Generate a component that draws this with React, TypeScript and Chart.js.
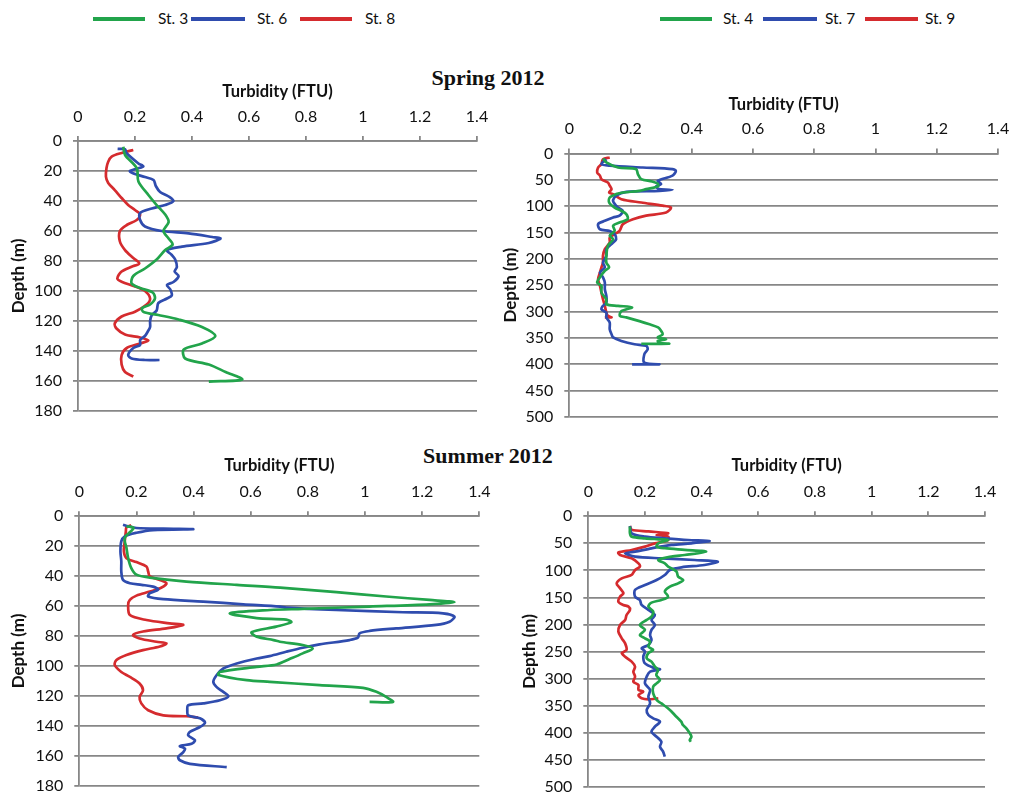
import React, { useEffect, useRef } from 'react';
import { Chart, registerables } from 'chart.js';

Chart.register(...registerables);

// ---------- tick values / labels ----------
const turbTicks = [0, 0.2, 0.4, 0.6, 0.8, 1, 1.2, 1.4];
const turbTickLabels = ['0', '0.2', '0.4', '0.6', '0.8', '1', '1.2', '1.4'];
const shelfDepthTicks = [0, 20, 40, 60, 80, 100, 120, 140, 160, 180];
const slopeDepthTicks = [0, 50, 100, 150, 200, 250, 300, 350, 400, 450, 500];

// ---------- Spring 2012, St. 3 / 6 / 8 ----------
const springSt3Depth = [3.8, 9.3, 18, 27, 36, 42.7, 49, 54, 60, 65, 69, 72.7, 79, 85, 90, 95, 98, 101, 105, 109, 111.5, 114, 116, 119, 124, 130, 135, 139, 145, 149, 154, 159, 160.4];
const springSt3Turb = [0.159, 0.165, 0.206, 0.212, 0.247, 0.276, 0.306, 0.318, 0.3, 0.318, 0.332, 0.306, 0.276, 0.235, 0.194, 0.188, 0.218, 0.262, 0.27, 0.253, 0.224, 0.23, 0.282, 0.353, 0.435, 0.482, 0.435, 0.371, 0.376, 0.459, 0.518, 0.576, 0.459];

const springSt6Depth = [5.3, 5.5, 8, 15, 17, 20, 22, 24, 26, 30, 34, 37, 40, 42.7, 45, 48, 52.7, 57, 60, 61.6, 64, 65, 68, 70.4, 72.7, 76, 79, 84, 87, 90, 94, 96, 99, 103, 105, 108, 113, 116, 120, 124, 127, 130, 132.7, 136, 138, 142.7, 145, 146, 146];
const springSt6Turb = [0.139, 0.165, 0.17, 0.212, 0.229, 0.182, 0.2, 0.235, 0.265, 0.273, 0.288, 0.318, 0.335, 0.306, 0.259, 0.218, 0.218, 0.235, 0.294, 0.388, 0.471, 0.5, 0.459, 0.365, 0.312, 0.329, 0.341, 0.347, 0.339, 0.353, 0.335, 0.312, 0.324, 0.329, 0.312, 0.282, 0.276, 0.259, 0.253, 0.253, 0.245, 0.235, 0.218, 0.218, 0.194, 0.176, 0.188, 0.235, 0.286];

const springSt8Depth = [6, 8, 10.4, 13.8, 18, 23.8, 28, 32.7, 38, 42.7, 46, 49, 52.7, 56, 60, 67, 72.7, 78, 81.6, 83.8, 87, 91.6, 93.8, 97, 100, 105, 109, 113.8, 117, 121.6, 125, 129, 131, 133, 135, 138, 142.7, 149, 154, 157];
const springSt8Turb = [0.194, 0.153, 0.118, 0.106, 0.1, 0.098, 0.106, 0.129, 0.153, 0.176, 0.2, 0.218, 0.206, 0.171, 0.147, 0.147, 0.165, 0.194, 0.215, 0.188, 0.153, 0.138, 0.153, 0.2, 0.235, 0.253, 0.241, 0.2, 0.153, 0.129, 0.135, 0.165, 0.218, 0.247, 0.218, 0.171, 0.153, 0.153, 0.165, 0.194];

// ---------- Spring 2012, St. 4 / 7 / 9 ----------
const springSt4Depth = [9.5, 17, 26.6, 29.7, 39, 48.7, 53, 57, 62, 67.7, 71, 74, 77, 83.5, 93, 102.5, 109, 115, 124.7, 131, 137, 146.8, 156, 162.7, 175, 194, 207, 216, 222.8, 235, 245, 251, 264, 276.6, 286, 289, 292, 299, 308, 311, 318, 324, 330, 336.7, 343, 349, 352.5, 355.7, 359, 361, 361];
const springSt4Turb = [0.11, 0.121, 0.159, 0.218, 0.224, 0.235, 0.27, 0.288, 0.29, 0.251, 0.229, 0.175, 0.153, 0.132, 0.13, 0.148, 0.17, 0.186, 0.191, 0.164, 0.143, 0.148, 0.132, 0.143, 0.126, 0.121, 0.121, 0.13, 0.116, 0.1, 0.091, 0.105, 0.105, 0.121, 0.121, 0.159, 0.205, 0.17, 0.165, 0.186, 0.229, 0.262, 0.29, 0.3, 0.305, 0.289, 0.316, 0.289, 0.294, 0.326, 0.235];

const springSt7Depth = [10.8, 20, 23, 26.6, 29.7, 33, 42, 52, 58, 62.7, 67.7, 69, 71, 72.8, 80, 90, 102.5, 109, 118, 121.5, 127.8, 134, 143.7, 147, 153, 162.7, 169, 181.6, 194, 207, 216, 226, 235, 245, 257.6, 270, 283, 289, 295.6, 302, 311, 321, 333.5, 343, 349, 355.7, 362, 365, 371.5, 381, 397, 400, 400];
const springSt7Turb = [0.121, 0.105, 0.132, 0.24, 0.337, 0.348, 0.337, 0.289, 0.3, 0.283, 0.294, 0.337, 0.294, 0.186, 0.153, 0.143, 0.159, 0.175, 0.164, 0.143, 0.116, 0.094, 0.1, 0.132, 0.148, 0.153, 0.143, 0.121, 0.121, 0.11, 0.116, 0.1, 0.11, 0.116, 0.116, 0.121, 0.121, 0.11, 0.105, 0.121, 0.121, 0.132, 0.132, 0.138, 0.143, 0.17, 0.213, 0.251, 0.256, 0.245, 0.245, 0.294, 0.205];

const springSt9Depth = [7.6, 10.8, 20, 26.6, 36, 42, 48.7, 55, 61, 67.7, 74, 77, 86.7, 93, 99, 102.5, 112, 118, 124.7, 134, 147, 153, 159.5, 169, 181.6, 194, 207, 216, 226, 238.6, 251, 264, 276.6, 289, 302, 308, 311, 311];
const springSt9Turb = [0.132, 0.11, 0.105, 0.094, 0.091, 0.1, 0.105, 0.126, 0.132, 0.138, 0.13, 0.143, 0.17, 0.235, 0.305, 0.332, 0.316, 0.251, 0.208, 0.175, 0.164, 0.148, 0.132, 0.132, 0.116, 0.11, 0.11, 0.105, 0.1, 0.094, 0.1, 0.105, 0.11, 0.116, 0.121, 0.126, 0.138, 0.116];

// ---------- Summer 2012, St. 3 / 6 / 8 ----------
const summerSt3Depth = [6.7, 7.8, 14.5, 21, 28, 34.6, 39, 41, 43.6, 45.8, 47.6, 50.7, 53.6, 55.9, 57.4, 58.8, 60.3, 61.9, 62.6, 64.8, 68, 69, 70.8, 73.7, 77.5, 80.4, 82.7, 83.8, 86, 88.3, 91.6, 95.4, 99, 100.6, 104, 106, 109.5, 110.6, 112.8, 114.6, 117.3, 120.7, 124, 124];
const summerSt3Turb = [0.165, 0.19, 0.159, 0.165, 0.171, 0.182, 0.2, 0.247, 0.375, 0.551, 0.703, 0.9, 1.074, 1.226, 1.313, 1.226, 1.016, 0.782, 0.668, 0.527, 0.621, 0.724, 0.742, 0.689, 0.603, 0.621, 0.68, 0.702, 0.782, 0.817, 0.782, 0.736, 0.691, 0.621, 0.492, 0.487, 0.586, 0.667, 0.841, 0.993, 1.04, 1.074, 1.098, 1.016];

const summerSt6Depth = [5.6, 6.7, 7.8, 8.3, 8.6, 9.2, 11, 13.4, 16.8, 23.5, 30, 36.9, 42.5, 44.7, 45.8, 47, 49, 51.4, 53.6, 55.4, 57, 58.8, 60.3, 61, 62.6, 64.1, 64.8, 67, 70.4, 72.6, 74.9, 76.6, 78.2, 81.1, 82.7, 85.6, 87.8, 90.5, 93.4, 95, 98.3, 101.7, 106, 110.6, 114, 117.3, 120.2, 122.9, 125, 126.3, 129.6, 133, 135, 137.9, 140.8, 144, 146.4, 149.7, 152, 153.5, 155.3, 157.5, 160.9, 163, 165.4, 167.6];
const summerSt6Turb = [0.153, 0.171, 0.2, 0.294, 0.399, 0.258, 0.2, 0.159, 0.147, 0.144, 0.147, 0.147, 0.153, 0.177, 0.218, 0.258, 0.276, 0.247, 0.241, 0.294, 0.434, 0.574, 0.703, 0.724, 0.899, 1.133, 1.273, 1.313, 1.296, 1.249, 1.109, 1.016, 0.981, 0.975, 0.946, 0.841, 0.782, 0.724, 0.666, 0.621, 0.551, 0.504, 0.481, 0.469, 0.48, 0.504, 0.522, 0.492, 0.434, 0.381, 0.378, 0.381, 0.422, 0.44, 0.422, 0.387, 0.381, 0.405, 0.393, 0.352, 0.37, 0.364, 0.346, 0.352, 0.387, 0.516];

const summerSt8Depth = [6, 7.4, 10, 16.8, 23.5, 28, 30.6, 33.5, 36.9, 40.2, 42.5, 44.7, 47.6, 50.3, 53, 55.9, 59.2, 66, 69.3, 71.5, 72.6, 74.9, 77, 79.3, 81.6, 83.8, 84.9, 87, 89.4, 92.7, 96, 99.4, 104, 107.3, 111.7, 116.2, 120.7, 125, 129.6, 133, 133.6, 134.5];
const summerSt8Turb = [0.182, 0.165, 0.163, 0.159, 0.156, 0.165, 0.2, 0.235, 0.241, 0.247, 0.282, 0.305, 0.288, 0.247, 0.2, 0.177, 0.171, 0.177, 0.235, 0.316, 0.364, 0.305, 0.223, 0.188, 0.211, 0.27, 0.305, 0.282, 0.223, 0.165, 0.13, 0.124, 0.147, 0.177, 0.211, 0.223, 0.211, 0.217, 0.241, 0.294, 0.375, 0.416];

// ---------- Summer 2012, St. 4 / 7 / 9 ----------
const summerSt4Depth = [19, 31.4, 37.6, 40.7, 42.5, 43.8, 50, 56, 59, 62, 65.4, 71.5, 74.6, 80.8, 87, 93, 102, 111.6, 117.8, 124, 130, 139, 148.6, 154.7, 159.7, 167, 176, 185.6, 191.7, 201, 210, 219.5, 225.6, 231.8, 241, 247, 253, 262.6, 268.8, 278, 284, 293.5, 302.7, 309, 315, 327.4, 339.7, 346, 358, 367.4, 379.8, 386, 392, 401, 407.5, 413.7, 416.8];
const summerSt4Turb = [0.147, 0.147, 0.153, 0.2, 0.247, 0.282, 0.247, 0.241, 0.27, 0.34, 0.416, 0.34, 0.293, 0.247, 0.27, 0.282, 0.311, 0.317, 0.335, 0.317, 0.288, 0.27, 0.282, 0.258, 0.223, 0.212, 0.229, 0.223, 0.206, 0.182, 0.2, 0.182, 0.2, 0.218, 0.212, 0.229, 0.212, 0.206, 0.223, 0.235, 0.246, 0.24, 0.253, 0.241, 0.229, 0.229, 0.241, 0.258, 0.288, 0.305, 0.328, 0.334, 0.346, 0.358, 0.364, 0.358, 0.362];

const summerSt7Depth = [17.9, 31.4, 37.6, 40.7, 43.8, 45.6, 50, 53, 59.2, 65.4, 68.4, 74.6, 77.7, 80.8, 83.8, 90, 94.3, 99.3, 108.5, 117.8, 127, 136, 148.6, 154.7, 164, 173, 182.5, 191.7, 201, 210, 219.5, 228.7, 238, 244, 250, 259.6, 272, 281, 283, 287.3, 296.5, 309, 321, 333.5, 345.9, 358, 367.4, 373.6, 379.8, 389, 398.3, 407.5, 416.8, 426, 435, 444.5];
const summerSt7Turb = [0.147, 0.153, 0.2, 0.27, 0.352, 0.428, 0.364, 0.294, 0.223, 0.165, 0.13, 0.165, 0.258, 0.375, 0.457, 0.41, 0.329, 0.288, 0.27, 0.241, 0.2, 0.165, 0.165, 0.182, 0.188, 0.212, 0.235, 0.223, 0.235, 0.223, 0.218, 0.223, 0.212, 0.188, 0.2, 0.194, 0.2, 0.235, 0.253, 0.218, 0.206, 0.2, 0.218, 0.212, 0.218, 0.206, 0.212, 0.229, 0.253, 0.235, 0.223, 0.241, 0.258, 0.253, 0.264, 0.27];

const summerSt9Depth = [17.9, 25, 28, 31.4, 34.5, 37.6, 43.8, 50, 56, 62.3, 67, 71.5, 77.7, 87, 93, 99.3, 108.5, 114.7, 124, 133, 142.4, 148.6, 157.8, 164, 167, 173, 182.5, 191.7, 201, 213, 225.6, 235, 247, 253, 259.6, 268.8, 278, 287.3, 296.5, 305.8, 312, 321, 324.3, 330.5, 336.6, 338.5, 336.6];
const summerSt9Turb = [0.147, 0.153, 0.212, 0.282, 0.241, 0.282, 0.282, 0.235, 0.2, 0.153, 0.106, 0.112, 0.153, 0.177, 0.182, 0.165, 0.153, 0.118, 0.1, 0.112, 0.124, 0.112, 0.106, 0.124, 0.142, 0.147, 0.135, 0.13, 0.112, 0.106, 0.118, 0.13, 0.135, 0.118, 0.13, 0.153, 0.165, 0.159, 0.165, 0.159, 0.177, 0.177, 0.194, 0.177, 0.188, 0.212, 0.247];

// ---------- styles ----------
const GREEN = '#22a44b';
const BLUE = '#2f4cae';
const RED = '#d52b2e';
const GRID = '#878787';
const TEXT = '#111111';
const FONT = 'Lato, "Open Sans", "DejaVu Sans", sans-serif';

type Series = { label: string; color: string; turb: number[]; depth: number[] };
type PanelSpec = {
  left: number; top: number; w: number; h: number;
  yW: number; xH: number; padR: number; padB: number;
  maxDepth: number; depthTicks: number[];
  series: Series[];
};

const panels: PanelSpec[] = [
  {
    left: 8, top: 82, w: 490, h: 344, yW: 70, xH: 59, padR: 21, padB: 15,
    maxDepth: 180, depthTicks: shelfDepthTicks,
    series: [
      { label: 'St. 3', color: GREEN, turb: springSt3Turb, depth: springSt3Depth },
      { label: 'St. 6', color: BLUE, turb: springSt6Turb, depth: springSt6Depth },
      { label: 'St. 8', color: RED, turb: springSt8Turb, depth: springSt8Depth },
    ],
  },
  {
    left: 500, top: 95, w: 511, h: 337, yW: 69.3, xH: 58.5, padR: 13, padB: 15,
    maxDepth: 500, depthTicks: slopeDepthTicks,
    series: [
      { label: 'St. 4', color: GREEN, turb: springSt4Turb, depth: springSt4Depth },
      { label: 'St. 7', color: BLUE, turb: springSt7Turb, depth: springSt7Depth },
      { label: 'St. 9', color: RED, turb: springSt9Turb, depth: springSt9Depth },
    ],
  },
  {
    left: 8, top: 456, w: 492, h: 344, yW: 71.3, xH: 60.3, padR: 20.7, padB: 14.3,
    maxDepth: 180, depthTicks: shelfDepthTicks,
    series: [
      { label: 'St. 3', color: GREEN, turb: summerSt3Turb, depth: summerSt3Depth },
      { label: 'St. 6', color: BLUE, turb: summerSt6Turb, depth: summerSt6Depth },
      { label: 'St. 8', color: RED, turb: summerSt8Turb, depth: summerSt8Depth },
    ],
  },
  {
    left: 519, top: 456, w: 486, h: 344, yW: 69.3, xH: 60.3, padR: 20, padB: 13.3,
    maxDepth: 500, depthTicks: slopeDepthTicks,
    series: [
      { label: 'St. 4', color: GREEN, turb: summerSt4Turb, depth: summerSt4Depth },
      { label: 'St. 7', color: BLUE, turb: summerSt7Turb, depth: summerSt7Depth },
      { label: 'St. 9', color: RED, turb: summerSt9Turb, depth: summerSt9Depth },
    ],
  },
];

function Panel({ spec }: { spec: PanelSpec }) {
  const ref = useRef<HTMLCanvasElement>(null);
  useEffect(() => {
    const canvas = ref.current;
    if (!canvas) return;
    const chart = new Chart(canvas, {
      type: 'scatter',
      data: {
        datasets: spec.series.map((s) => ({
          label: s.label,
          data: s.turb.map((t, i) => ({ x: t, y: s.depth[i] })),
          showLine: true,
          borderColor: s.color,
          backgroundColor: s.color,
          borderWidth: 2.7,
          pointRadius: 0,
          pointHoverRadius: 0,
          tension: 0.3,
          fill: false,
        })),
      },
      options: {
        responsive: false,
        animation: false,
        events: [],
        layout: { padding: { left: 0, top: 0, right: spec.padR, bottom: spec.padB } },
        plugins: {
          legend: { display: false },
          tooltip: { enabled: false },
          title: { display: false },
        },
        scales: {
          x: {
            type: 'linear',
            position: 'top',
            min: 0,
            max: 1.4,
            afterBuildTicks: (s: any) => {
              s.ticks = turbTicks.map((v) => ({ value: v }));
            },
            afterFit: (s: any) => {
              s.height = spec.xH;
              s.paddingLeft = 0;
              s.paddingRight = 0;
            },
            grid: { drawOnChartArea: false, drawTicks: true, tickLength: 5, color: GRID, lineWidth: 1.8 },
            border: { display: true, color: GRID, width: 1.8 },
            ticks: {
              padding: 10,
              color: TEXT,
              autoSkip: false,
              maxRotation: 0,
              font: { family: FONT, size: 16 },
              callback: (_v: any, i: number) => turbTickLabels[i],
            },
            title: {
              display: true,
              text: 'Turbidity (FTU)',
              color: TEXT,
              padding: 0,
              font: { family: FONT, size: 16.5, weight: 'bold' },
            },
          },
          y: {
            type: 'linear',
            reverse: true,
            min: 0,
            max: spec.maxDepth,
            afterBuildTicks: (s: any) => {
              s.ticks = spec.depthTicks.map((v) => ({ value: v }));
            },
            afterFit: (s: any) => {
              s.width = spec.yW;
              s.paddingTop = 0;
              s.paddingBottom = 0;
            },
            grid: { drawOnChartArea: true, drawTicks: true, tickLength: 5, color: GRID, lineWidth: 1.8 },
            border: { display: true, color: GRID, width: 1.8 },
            ticks: {
              padding: 11,
              color: TEXT,
              autoSkip: false,
              font: { family: FONT, size: 16 },
              callback: (_v: any, i: number) => String(spec.depthTicks[i]),
            },
            title: {
              display: true,
              text: 'Depth (m)',
              color: TEXT,
              padding: 0,
              font: { family: FONT, size: 17, weight: 'bold' },
            },
          },
        },
      } as any,
    });
    return () => chart.destroy();
  }, [spec]);
  return (
    <canvas
      ref={ref}
      width={spec.w}
      height={spec.h}
      style={{ position: 'absolute', left: spec.left, top: spec.top, width: spec.w, height: spec.h }}
    />
  );
}

type LegendItem = { label: string; color: string; lineX: number; lineW: number; textX: number };
const leftLegend: LegendItem[] = [
  { label: 'St. 3', color: GREEN, lineX: 93, lineW: 52, textX: 158 },
  { label: 'St. 6', color: BLUE, lineX: 191, lineW: 54, textX: 257 },
  { label: 'St. 8', color: RED, lineX: 300, lineW: 52, textX: 365 },
];
const rightLegend: LegendItem[] = [
  { label: 'St. 4', color: GREEN, lineX: 660, lineW: 52, textX: 723 },
  { label: 'St. 7', color: BLUE, lineX: 763, lineW: 54, textX: 825 },
  { label: 'St. 9', color: RED, lineX: 865, lineW: 53, textX: 925 },
];

function Legend({ items }: { items: LegendItem[] }) {
  return (
    <>
      {items.map((it) => (
        <React.Fragment key={it.label}>
          <div style={{ position: 'absolute', left: it.lineX, top: 17, width: it.lineW, height: 3.5, background: it.color }} />
          <div
            style={{
              position: 'absolute', left: it.textX, top: 10, fontFamily: FONT, fontSize: 15.5,
              lineHeight: '16px', color: TEXT, whiteSpace: 'nowrap',
            }}
          >
            {it.label}
          </div>
        </React.Fragment>
      ))}
    </>
  );
}

function SeasonTitle({ text, top }: { text: string; top: number }) {
  return (
    <div
      style={{
        position: 'absolute', left: 388, width: 200, top, textAlign: 'center',
        fontFamily: '"Liberation Serif", "Times New Roman", serif', fontWeight: 'bold',
        fontSize: 22, lineHeight: '22px', color: TEXT, whiteSpace: 'nowrap',
      }}
    >
      {text}
    </div>
  );
}

export default function App() {
  return (
    <div
      style={{
        position: 'absolute', left: 0, top: 0, width: 1011, height: 792,
        overflow: 'hidden', background: '#ffffff',
      }}
    >
      <Legend items={leftLegend} />
      <Legend items={rightLegend} />
      <SeasonTitle text="Spring 2012" top={67} />
      <SeasonTitle text="Summer 2012" top={445} />
      {panels.map((p, i) => (
        <Panel key={i} spec={p} />
      ))}
    </div>
  );
}
